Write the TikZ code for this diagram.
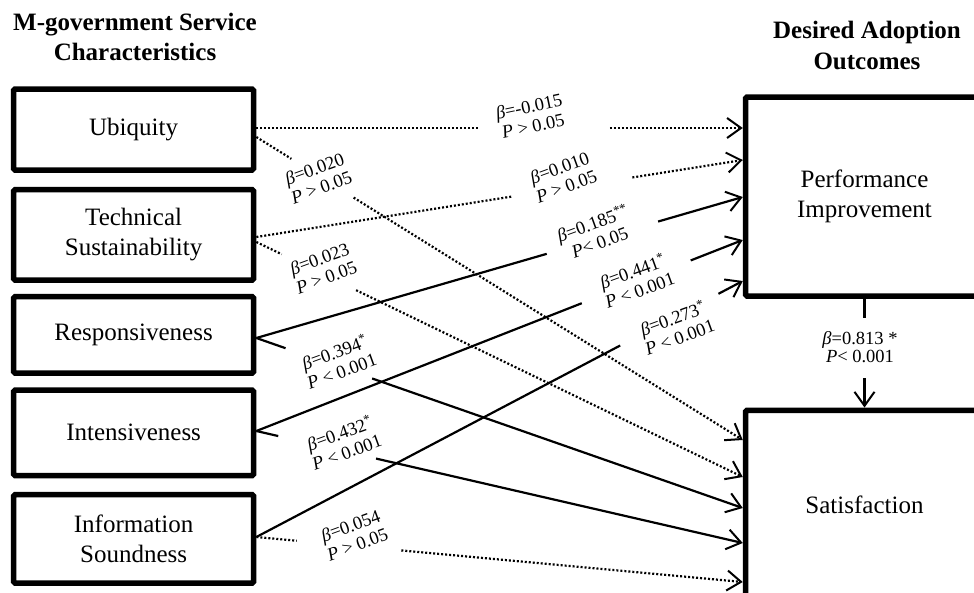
\documentclass[tikz,border=0pt]{standalone}
\usepackage{fontspec}
\setmainfont{Liberation Serif}
\usetikzlibrary{arrows.meta,calc}

% a connector broken once to leave room for its label:
% #1 style, #2 start, #3 end, #4 and #5 where the gap begins and ends
\newcommand\splitlink[5]{%
  \draw[#1] (#2) -- ($(#2)!#4!(#3)$);
  \draw[#1,tip] ($(#2)!#5!(#3)$) -- (#3);}

\tikzset{
  box/.style={draw, line width=5.5pt, rounded corners=1.5pt, align=center,
    inner sep=0pt, font=\fontsize{25}{30}\selectfont},
  title/.style={align=center, font=\bfseries\fontsize{25}{30.5}\selectfont},
  solidlink/.style={line width=2.2pt},
  dotlink/.style={line width=2.2pt, dash pattern=on 2pt off 2pt},
  tip/.style={-{Straight Barb[length=14pt,width=20pt,line width=2pt]}},
  lab/.style={align=center, inner sep=0pt, rotate=20,
    font=\fontsize{18.5}{20}\selectfont},
}

\begin{document}
\begin{tikzpicture}[x=1pt, y=-1pt]
\useasboundingbox (0,0) rectangle (974,592);
\clip (0,0) rectangle (974,592);

% headings
\node[title] (hl) at (135,37) {M-government Service\\Characteristics};
\node[title] (hr) at (867,45.5) {Desired Adoption\\Outcomes};

% service characteristics
\node[box, minimum width=240pt, minimum height=81pt]   (ubi) at (133.6,129.5) {Ubiquity};
\node[box, minimum width=240pt, minimum height=90.5pt] (tec) at (133.6,234.8) {Technical\\Sustainability};
\node[box, minimum width=240pt, minimum height=76.5pt] (res) at (133.6,334.8) {Responsiveness};
\node[box, minimum width=240pt, minimum height=85.5pt] (int) at (133.6,432.8) {Intensiveness};
\node[box, minimum width=240pt, minimum height=88.5pt] (inf) at (133.6,538.8) {Information\\Soundness};

% adoption outcomes
\node[box, minimum width=238pt, minimum height=199pt] (pi)  at (864.5,196.5) {Performance\\Improvement};
\node[box, minimum width=238pt, minimum height=190pt] (sat) at (864.5,505.3) {Satisfaction};

% ports on the boxes
\coordinate (u1) at (ubi.east |- 0,128);
\coordinate (u2) at (ubi.east |- 0,137);
\coordinate (t1) at (tec.east |- 0,237);
\coordinate (t2) at (tec.east |- 0,242);
\coordinate (r0) at (res.east |- 0,338);
\coordinate (i0) at (int.east |- 0,431);
\coordinate (s0) at (inf.east |- 0,537);
\coordinate (p1) at (pi.west |- 0,128);
\coordinate (p2) at (pi.west |- 0,160);
\coordinate (p3) at (pi.west |- 0,197);
\coordinate (p4) at (pi.west |- 0,240);
\coordinate (p5) at (pi.west |- 0,281);
\coordinate (q1) at (sat.west |- 0,440);
\coordinate (q2) at (sat.west |- 0,477);
\coordinate (q3) at (sat.west |- 0,508);
\coordinate (q4) at (sat.west |- 0,543);
\coordinate (q5) at (sat.west |- 0,582);

% paths to performance improvement
\splitlink{dotlink}{u1}{p1}{0.459}{0.727}
\splitlink{dotlink}{t1}{p2}{0.527}{0.773}
\splitlink{solidlink}{r0}{p3}{0.597}{0.826}
\splitlink{solidlink}{i0}{p4}{0.669}{0.893}
\splitlink{solidlink}{s0}{p5}{0.748}{0.950}

% paths to satisfaction
\splitlink{dotlink}{u2}{q1}{0.072}{0.200}
\splitlink{dotlink}{t2}{q2}{0.052}{0.205}
\splitlink{solidlink}{r0}{q3}{0.060}{0.238}
\splitlink{solidlink}{i0}{q4}{0.045}{0.246}
\splitlink{dotlink}{s0}{q5}{0.083}{0.298}

% performance improvement -> satisfaction
\draw[solidlink] (pi.south) -- ($(pi.south)!0.177!(sat.north)$);
\draw[solidlink, -{Straight Barb[length=14pt,width=20pt,line width=2pt]}]
  ($(pi.south)!0.729!(sat.north)$) -- (sat.north);

% path coefficients (the first one is tilted less: 20 - 8 = 12 degrees)
\node[lab, rotate=-8] (c1) at (531,116) {\textit{β}=-0.015\\\textit{P} > 0.05};
\node[lab] (c2) at (318,178) {\textit{β}=0.020\\\textit{P} > 0.05};
\node[lab] (c3) at (563,177) {\textit{β}=0.010\\\textit{P} > 0.05};
\node[lab] (c4) at (323,268) {\textit{β}=0.023\\\textit{P} > 0.05};
\node[lab] (c5) at (596,232) {\textit{β}=0.185\textsuperscript{**}\\\textit{P}< 0.05};
\node[lab] (c6) at (636,280) {\textit{β}=0.441\textsuperscript{*}\\\textit{P} < 0.001};
\node[lab] (c7) at (676,327) {\textit{β}=0.273\textsuperscript{*}\\\textit{P} < 0.001};
\node[lab] (c8) at (338,361) {\textit{β}=0.394\textsuperscript{*}\\\textit{P} < 0.001};
\node[lab] (c9) at (343,442) {\textit{β}=0.432\textsuperscript{*}\\\textit{P} < 0.001};
\node[lab] (c10) at (354,535) {\textit{β}=0.054\\\textit{P} > 0.05};
\node[align=center, inner sep=0pt, font=\fontsize{18.5}{18.5}\selectfont] (c0) at (860,347)
  {\textit{β}=0.813 *\\\textit{P}< 0.001};
\end{tikzpicture}
\end{document}
